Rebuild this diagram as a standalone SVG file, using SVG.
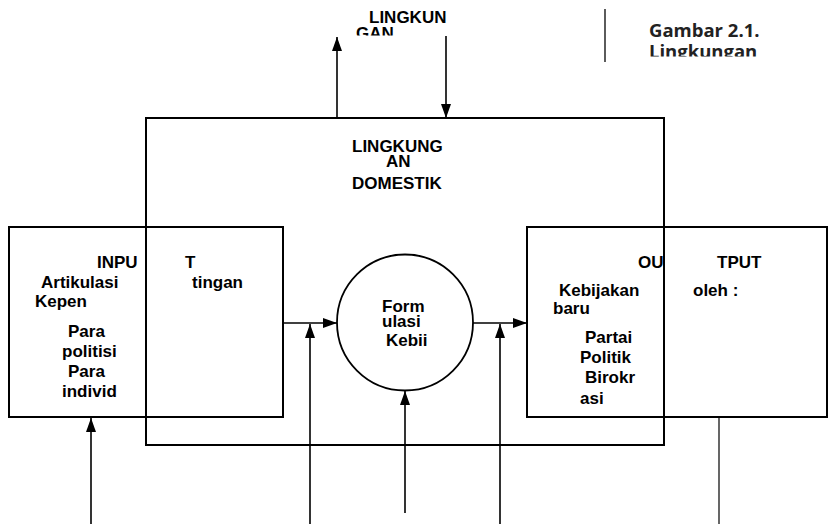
<svg xmlns="http://www.w3.org/2000/svg" width="833" height="524" viewBox="0 0 833 524">
<defs>
<style>
.t{font-family:"Liberation Sans",Arial,sans-serif;font-weight:bold;font-size:17px;fill:#000}
.cap{font-family:"Open Sans","Noto Sans",sans-serif;font-weight:bold;font-size:18.5px;fill:#222}
.box{fill:none;stroke:#000;stroke-width:2}
.ln{fill:none;stroke:#000;stroke-width:1.6}
.thin{fill:none;stroke:#000;stroke-width:1.2}
</style>
<marker id="ahv" viewBox="0 0 14 10" refX="14" refY="5" markerWidth="14" markerHeight="10" markerUnits="userSpaceOnUse" orient="auto">
<path d="M0,0 L14,5 L0,10 z" fill="#000"/>
</marker>
<clipPath id="cg"><rect x="340" y="0" width="100" height="35.5"/></clipPath>
<clipPath id="cl"><rect x="620" y="41" width="213" height="15.5"/></clipPath>
</defs>
<rect width="833" height="524" fill="#fff"/>

<g id="caption">
<line x1="605" y1="9" x2="605" y2="62" stroke="#333" stroke-width="1.6"/>
<text class="cap" x="649" y="37">Gambar 2.1.</text>
<text class="cap" x="649" y="58" clip-path="url(#cl)">Lingkungan</text>
</g>

<g id="lingkungan-luar">
<text class="t" x="369" y="23">LINGKUN</text>
<text class="t" x="356" y="39" clip-path="url(#cg)">GAN</text>
</g>

<g id="lingkungan-domestik">
<rect class="box" x="146" y="118" width="518" height="327"/>
<text class="t" x="352" y="152">LINGKUNG</text>
<text class="t" x="386" y="167">AN</text>
<text class="t" x="352" y="189">DOMESTIK</text>
</g>

<g id="input">
<rect class="box" x="9" y="227" width="274" height="190"/>
<text class="t" x="97" y="268">INPU</text>
<text class="t" x="185" y="268">T</text>
<text class="t" x="41" y="288">Artikulasi</text>
<text class="t" x="192" y="288">tingan</text>
<text class="t" x="35" y="307">Kepen</text>
<text class="t" x="68" y="337">Para</text>
<text class="t" x="62" y="357">politisi</text>
<text class="t" x="68" y="377">Para</text>
<text class="t" x="62" y="397">individ</text>
</g>

<g id="formulasi">
<circle cx="405" cy="322.5" r="68" fill="none" stroke="#000" stroke-width="1.8"/>
<text class="t" x="382" y="312">Form</text>
<text class="t" x="382" y="327">ulasi</text>
<text class="t" x="386" y="346">Kebii</text>
</g>

<g id="output">
<rect class="box" x="527" y="227" width="300" height="190"/>
<text class="t" x="638" y="268">OU</text>
<text class="t" x="717" y="268">TPUT</text>
<text class="t" x="559" y="296">Kebijakan</text>
<text class="t" x="693" y="296">oleh :</text>
<text class="t" x="553" y="314">baru</text>
<text class="t" x="585" y="343">Partai</text>
<text class="t" x="580" y="363">Politik</text>
<text class="t" x="585" y="383">Birokr</text>
<text class="t" x="580" y="404">asi</text>
</g>

<g id="connectors">
<line class="ln" x1="337" y1="118" x2="337" y2="37" marker-end="url(#ahv)"/>
<line class="ln" x1="446" y1="36" x2="446" y2="118" marker-end="url(#ahv)"/>
<line class="ln" x1="283" y1="323" x2="337" y2="323" marker-end="url(#ahv)"/>
<line class="ln" x1="473" y1="323" x2="527" y2="323" marker-end="url(#ahv)"/>
<line class="ln" x1="91" y1="524" x2="91" y2="418" marker-end="url(#ahv)"/>
<line class="ln" x1="310" y1="524" x2="310" y2="324" marker-end="url(#ahv)"/>
<line class="ln" x1="500" y1="524" x2="500" y2="324" marker-end="url(#ahv)"/>
<line class="ln" x1="405" y1="513" x2="405" y2="391" marker-end="url(#ahv)"/>
<line class="thin" x1="719" y1="417" x2="719" y2="524"/>
</g>
</svg>
